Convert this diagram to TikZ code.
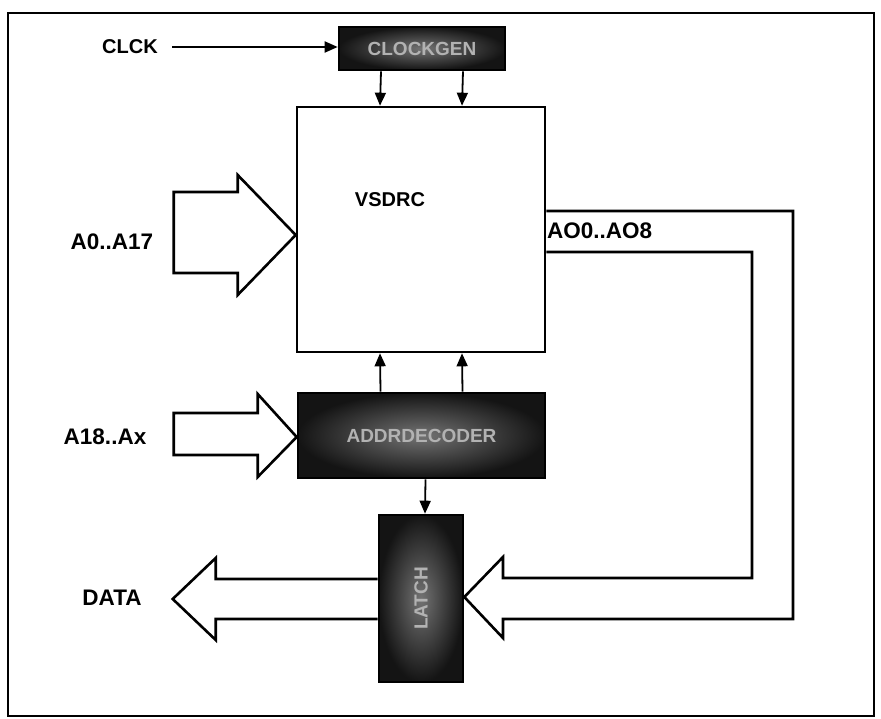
\documentclass[tikz,border=0pt]{standalone}
\usepackage{fontspec}
\setmainfont{Liberation Sans}
\usetikzlibrary{arrows.meta,calc}
\tikzset{
  lbl/.style={font=\fontsize{20}{24}\selectfont\bfseries, inner sep=0pt},
  biglbl/.style={font=\fontsize{22.5}{26}\selectfont\bfseries, inner sep=0pt},
  mainbox/.style={draw=black, line width=2.6pt, fill=white, inner sep=0pt},
  darkbox/.style={draw=black, line width=2.6pt, shade, inner color=black!55, outer color=black!92, inner sep=0pt,
    font=\fontsize{19}{22}\selectfont\bfseries, text=black!30},
  sig/.style={line width=1.8pt, -{Triangle[length=13pt,width=11pt]}},
  bus/.style={line width=2.6pt, line join=miter},
  frame/.style={line width=2.4pt}
}
\begin{document}
\begin{tikzpicture}[x=1pt,y=-1pt]
\useasboundingbox (0,0) rectangle (881,719);
\draw[frame] (8,13) rectangle (874,716);

% blocks
\node[darkbox, minimum width=166pt, minimum height=43pt] (clk) at (422,48.5) {CLOCKGEN};
\node[mainbox, minimum width=248pt, minimum height=245pt] (vsdrc) at (421,229.5) {};
\node[lbl] (vsdrclbl) at (390,200) {VSDRC};
\node[darkbox, minimum width=247pt, minimum height=85pt] (addr) at (421.5,435.5) {ADDRDECODER};
\node[darkbox, minimum width=84pt, minimum height=167pt] (latch) at (421,598.5) {\rotatebox{90}{LATCH}};

% labels
\node[lbl] (clck) at (130,47) {CLCK};
\node[biglbl] (a0) at (112,242) {A0..A17};
\node[biglbl] (a18) at (105,437) {A18..Ax};
\node[biglbl] (data) at (112,598) {DATA};
\node[biglbl, anchor=west] (ao) at (547,231) {AO0..AO8};

% small signal arrows
\coordinate (clkin) at (172,47);
\draw[sig] (clkin) -- (clk.west |- clkin);
\draw[sig] ([xshift=-41pt]clk.south) -- ([xshift=-41pt]vsdrc.north);
\draw[sig] ([xshift=41pt]clk.south) -- ([xshift=41pt]vsdrc.north);
\draw[sig] ([xshift=-41pt]addr.north) -- ([xshift=-41pt]vsdrc.south);
\draw[sig] ([xshift=41pt]addr.north) -- ([xshift=41pt]vsdrc.south);
\draw[sig] ([xshift=4pt]addr.south) -- ([xshift=4pt]latch.north);

% A0..A17 bus arrow
\coordinate (a0tip) at (vsdrc.west |- 0,235);
\draw[bus, fill=white] (a0tip) -- ++(-58,-60) -- ++(0,17) -- ++(-64,0) -- ++(0,81) -- ++(64,0) -- ++(0,22) -- cycle;

% A18..Ax bus arrow
\coordinate (a18tip) at (addr.west |- 0,437);
\draw[bus, fill=white] (a18tip) -- ++(-39,-43) -- ++(0,19) -- ++(-84,0) -- ++(0,42) -- ++(84,0) -- ++(0,22) -- cycle;

% DATA bus arrow
\coordinate (dtop) at (latch.west |- 0,579);
\coordinate (dbot) at (latch.west |- 0,619);
\draw[bus] (dtop) -- ++(-162,0) -- ++(0,-21) -- ++(-43,41) -- ++(43,41) -- ++(0,-21) -- (dbot);

% AO0..AO8 bus to latch
\coordinate (aoin) at (vsdrc.east |- 0,252);
\coordinate (aoout) at (vsdrc.east |- 0,211);
\coordinate (ltip) at (latch.east |- 0,597);
\draw[bus] (aoin) -- (752,252) -- (752,578) -- (503,578) -- (503,557) -- (ltip)
  -- (503,638) -- (503,619) -- (793,619) -- (793,211) -- (aoout);
\end{tikzpicture}
\end{document}
